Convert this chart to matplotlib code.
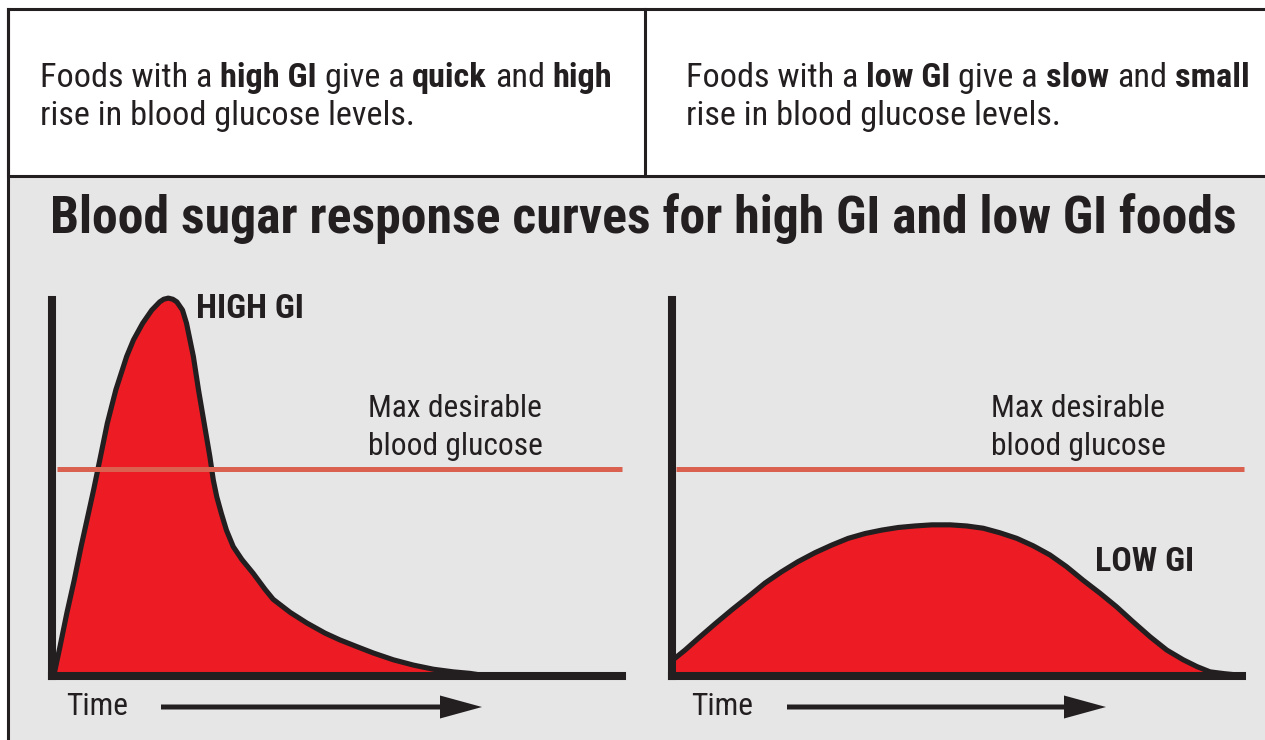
import matplotlib
matplotlib.use("Agg")
import matplotlib.pyplot as plt
from matplotlib import font_manager
from matplotlib.patches import Rectangle, FancyArrow

# --- data (time: 0-100, glucose: 0-100) ---
high_t = [0.3, 1.4, 2.6, 3.9, 5.1, 6.4, 7.3, 8.5, 9.7, 11.2, 13.1, 14.3, 15.9, 17.5, 18.9,
          19.6, 20.4, 21.2, 21.9, 22.9, 23.6, 24.2, 24.8, 25.7, 26.7, 27.7, 28.3, 28.9, 29.7,
          30.6, 31.8, 33.3, 35.3, 37.4, 38.8, 41.8, 44.7, 47.9, 50.5, 53.5, 56.4, 59.9,
          63.4, 66.9, 70.4, 73.3, 75.5]
high_g = [0.0, 7.8, 16.7, 25.5, 34.4, 43.3, 49.5, 58.3, 67.2, 76.1, 85.0, 89.4, 93.8, 97.3,
          99.5, 100.2, 100.5, 100.2, 99.5, 97.3, 93.8, 89.4, 85.0, 76.1, 67.2, 58.3, 52.1, 47.7,
          43.3, 38.8, 34.4, 31.0, 27.3, 23.0, 20.4, 16.9, 14.1, 11.4, 9.6, 7.8, 6.1, 4.3,
          2.9, 1.8, 1.1, 0.7, 0.2]
low_t = [0.5, 2.3, 4.6, 7.5, 10.5, 13.4, 16.3, 19.2, 22.1, 25.1, 28.0, 30.9, 33.9, 36.8,
         39.7, 42.6, 45.6, 48.8, 51.7, 54.6, 57.5, 60.5, 63.4, 66.3, 69.2, 72.1, 75.1,
         78.0, 80.9, 83.9, 86.8, 89.7, 92.1, 94.4, 97.0, 99.0]
low_g = [4.7, 6.9, 10.0, 13.8, 17.6, 21.1, 24.7, 27.7, 30.4, 32.8, 34.8, 36.6, 37.9, 38.8,
         39.5, 39.9, 40.2, 40.2, 39.9, 39.3, 38.1, 36.6, 34.6, 32.2, 29.1, 25.5, 22.0,
         18.4, 14.4, 10.4, 6.9, 4.3, 2.5, 1.1, 0.6, 0.3]
max_desirable = 55.0

title = "Blood sugar response curves for high GI and low GI foods"
left_note = [[("Foods with a", False), ("high GI", True), ("give a", False),
              ("quick", True), ("and", False), ("high", True)],
             [("rise in blood glucose levels.", False)]]
right_note = [[("Foods with a", False), ("low GI", True), ("give a", False),
               ("slow", True), ("and", False), ("small", True)],
              [("rise in blood glucose levels.", False)]]

RED = "#ed1c24"
DARK = "#231f20"
LINE = "#da6150"
GREY = "#e6e6e6"

names = {f.name for f in font_manager.fontManager.ttflist}
FONT = "DejaVu Sans"
for cand in ["Liberation Sans Narrow", "Roboto Condensed", "Lato", "Roboto"]:
    if cand in names:
        FONT = cand
        break

W, H = 1265, 740
fig = plt.figure(figsize=(W / 100, H / 100), dpi=100)
renderer = fig.canvas.get_renderer()

bg = fig.add_axes([0, 0, 1, 1])
bg.set_xlim(0, W)
bg.set_ylim(H, 0)
bg.axis("off")

# boxes
bg.add_patch(Rectangle((8, 176), W, H, facecolor=GREY, edgecolor="none", zorder=0))
bg.add_patch(Rectangle((8, 9), W, 167, facecolor="white", edgecolor=DARK, lw=2.2, zorder=1))
bg.plot([8, 8], [9, H + 5], color=DARK, lw=2.2, zorder=2)
bg.plot([645, 645], [9, 176], color=DARK, lw=2.2, zorder=2)


def text_width(s, size, bold):
    t = bg.text(0, 0, s, fontsize=size, family=FONT, fontweight="bold" if bold else "normal")
    w = t.get_window_extent(renderer).width
    t.remove()
    return w


def fit_size(s, target, bold, base=20.0):
    return base * target / text_width(s, base, bold)


def space_width(size, bold):
    return text_width("x x", size, bold) - text_width("xx", size, bold)


def runs_width(runs, size):
    w = 0
    for i, (s, bold) in enumerate(runs):
        if i > 0:
            w += space_width(size, bold)
        w += text_width(s, size, bold)
    return w


def draw_runs(x0, y, runs, size):
    x = x0
    for i, (s, bold) in enumerate(runs):
        if i > 0:
            x += space_width(size, bold)
        bg.text(x, y, s, fontsize=size, family=FONT, color=DARK, va="baseline", ha="left",
                fontweight="bold" if bold else "normal", zorder=5)
        x += text_width(s, size, bold)


note_size = 20 * 572 / runs_width(left_note[0], 20)
for x0, note in [(40, left_note), (686, right_note)]:
    draw_runs(x0, 87, note[0], note_size)
    draw_runs(x0, 125, note[1], note_size)

title_size = fit_size(title, 1186, True)
bg.text(643, 233, title, fontsize=title_size, family=FONT, fontweight="bold", color=DARK,
        ha="center", va="baseline", zorder=5)

label_size = fit_size("Max desirable", 174, False)
tag_size = fit_size("HIGH GI", 108, True)

# two panels: left px, curve, tag, tag pos, label x, "Time" x, arrow start/end, line span
panels = [
    (52, high_t, high_g, "HIGH GI", (196, 318), 368, 66, 161, 482, 0.9, 100.0),
    (672, low_t, low_g, "LOW GI", (1095, 571), 991, 691, 787, 1106, 0.7, 100.4),
]
for left, ts, gs, tag, tag_xy, lab_x, time_x, arr0, arr1, l0, l1 in panels:
    ax = fig.add_axes([left / W, (H - 676) / H, 570 / W, 376 / H])
    ax.set_xlim(0, 100)
    ax.set_ylim(0, 100)
    ax.patch.set_visible(False)
    for side in ["top", "right"]:
        ax.spines[side].set_visible(False)
    for side in ["left", "bottom"]:
        ax.spines[side].set_linewidth(5.8)
        ax.spines[side].set_color(DARK)
        ax.spines[side].set_capstyle("projecting")
        ax.spines[side].set_zorder(4)
    ax.set_xticks([])
    ax.set_yticks([])
    ax.fill_between(ts, gs, 0, color=RED, lw=0, zorder=2)
    ax.plot(ts, gs, color=DARK, lw=3.7, solid_joinstyle="round", solid_capstyle="round",
            zorder=3, clip_on=False)
    ax.hlines(max_desirable, l0, l1, color=LINE, lw=3.6, zorder=5, clip_on=False)

    bg.text(tag_xy[0], tag_xy[1], tag, fontsize=tag_size, family=FONT, fontweight="bold",
            color=DARK, va="baseline", ha="left", zorder=5)
    bg.text(lab_x, 417, "Max desirable", fontsize=label_size, family=FONT, color=DARK,
            va="baseline", ha="left", zorder=5)
    bg.text(lab_x, 455, "blood glucose", fontsize=label_size, family=FONT, color=DARK,
            va="baseline", ha="left", zorder=5)
    bg.text(time_x, 715, "Time", fontsize=label_size, family=FONT, color=DARK,
            va="baseline", ha="left", zorder=5)
    bg.add_patch(FancyArrow(arr0, 707, arr1 - arr0, 0, width=5, head_width=23, head_length=42,
                            length_includes_head=True, color=DARK, lw=0, zorder=5))

fig.savefig("out.png", dpi=100)
